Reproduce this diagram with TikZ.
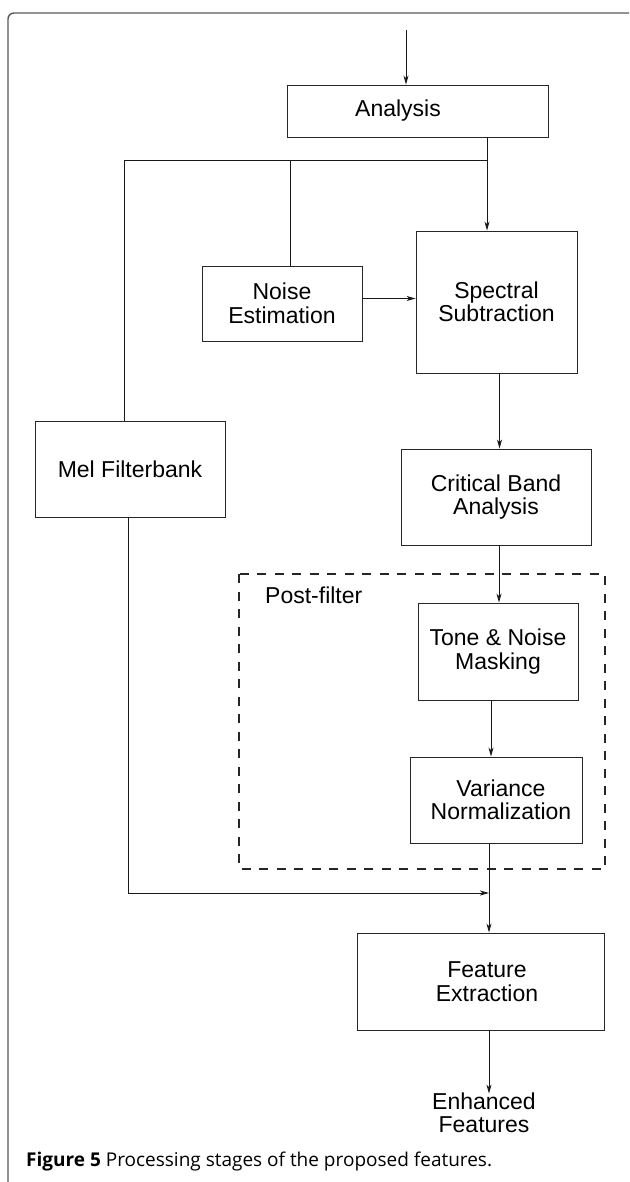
\documentclass[tikz,border=0pt]{standalone}
\usepackage{fontspec}
\setmainfont{Liberation Sans}
\newfontfamily\capfont{Open Sans}
\usetikzlibrary{positioning,arrows.meta}

\tikzset{
    txt/.style={align=center, inner sep=0pt, font=\fontsize{23}{23.5}\selectfont},
    blk/.style={txt, draw=black!85, line width=0.9pt},
    wire/.style={draw=black!90, line width=0.9pt},
    arr/.style={wire, -{Stealth[length=9pt, width=5pt, inset=2.5pt]}},
}

\begin{document}
\begin{tikzpicture}[x=1pt, y=-1pt]

    \useasboundingbox (0,0) rectangle (629,1182);

    % outer frame
    \path[draw=black!65, line width=1.4pt, rounded corners=6pt] (629,13) -- (8,13) -- (8,1182);

    % post-filter region
    \path[draw=black!85, line width=2.6pt, dash pattern=on 9pt off 8.5pt] (239,574) rectangle (605,869);
    \node[txt, anchor=west] (post) at (265,595) {Post-filter};

    % the blocks
    \node[blk, minimum width=261pt, minimum height=52pt,
        label={[txt, xshift=-19.5pt]center:Analysis}] (ana) at (417.5,111) {};
    \node[blk, minimum width=161pt, minimum height=142pt] (spec) at (496.5,302) {Spectral\\Subtraction};
    \node[blk, minimum width=160pt, minimum height=75pt] (noise) at (282,303.5) {Noise\\Estimation};
    \node[blk, minimum width=190pt, minimum height=96pt] (mel) at (130,469) {Mel Filterbank};
    \node[blk, minimum width=190pt, minimum height=96pt] (crit) at (496,497) {Critical Band\\Analysis};
    \node[blk, minimum width=160pt, minimum height=97pt] (tone) at (498,651.5) {Tone \& Noise\\Masking};
    \node[blk, minimum width=172pt, minimum height=86pt,
        label={[txt, xshift=5pt]center:Variance\\Normalization}] (var) at (496,800) {};
    \node[blk, minimum width=247pt, minimum height=97pt,
        label={[txt, xshift=6.5pt]center:Feature\\Extraction}] (feat) at (480.5,981.5) {};
    \node[txt, inner sep=2pt] (out) at (484,1113) {Enhanced\\Features};

    % branch points
    \coordinate (in) at (406,30);
    \coordinate (tap) at (487,160);
    \coordinate (noiseTap) at (290,160);
    \coordinate (melTap) at (124,160);
    \coordinate (join) at (489,893);
    \coordinate (melJoin) at (128,893);

    % connectors
    \path[arr] (in) -- (in |- ana.north);
    \path[arr] (tap |- ana.south) -- (tap |- spec.north);
    \path[wire] (tap) -- (melTap) -- (melTap |- mel.north);
    \path[wire] (noiseTap) -- (noiseTap |- noise.north);
    \path[arr] ([yshift=5pt]noise.east) -- ([yshift=5pt]noise.east -| spec.west);
    \path[arr] ([xshift=3pt]spec.south) -- ([xshift=3pt]spec.south |- crit.north);
    \path[arr] ([xshift=3pt]crit.south) -- ([xshift=3pt]crit.south |- tone.north);
    \path[arr] ([xshift=-7pt]tone.south) -- ([xshift=-7pt]tone.south |- var.north);
    \path[wire] (join |- var.south) -- (join);
    \path[arr] (melJoin |- mel.south) -- (melJoin) -- (join);
    \path[arr] (join) -- (join |- feat.north);
    \path[arr] (join |- feat.south) -- ([yshift=-3pt]join |- out.north);

    % caption
    \node[anchor=base west, font=\capfont\fontsize{19}{21}\selectfont, inner sep=0pt] (caption) at (26,1166)
        {\textbf{Figure 5} Processing stages of the proposed features.};

\end{tikzpicture}
\end{document}
